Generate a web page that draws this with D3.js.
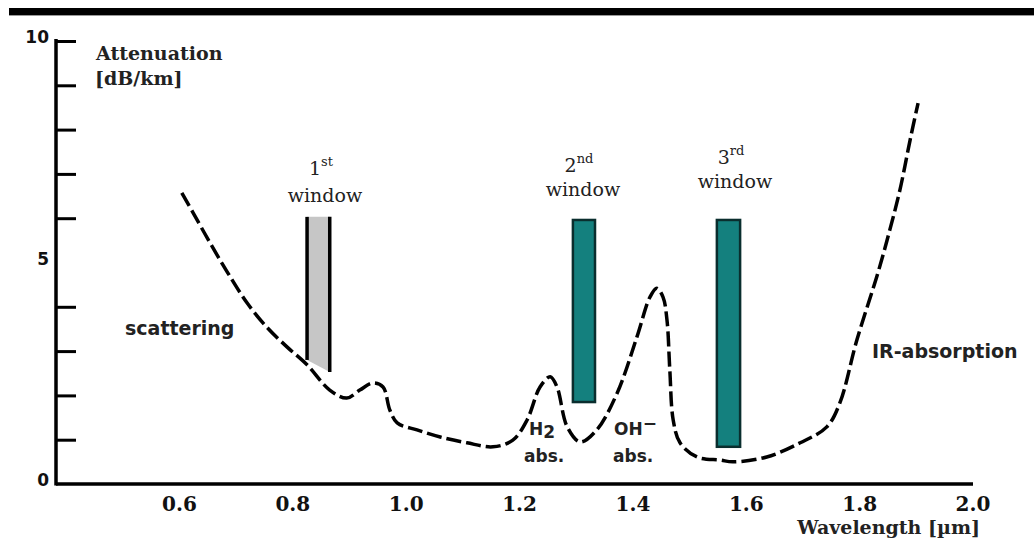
<!DOCTYPE html>
<html><head><meta charset="utf-8">
<script src="https://cdn.jsdelivr.net/npm/d3@7"></script>
<style>
html,body{margin:0;padding:0;background:#fff;}
svg{display:block;}
</style></head>
<body>
<svg id="c" width="1034" height="544"></svg>
<script>
// ---- data ----
const wavelength = [0.605,0.625,0.655,0.685,0.720,0.755,0.791,0.826,0.866,0.896,0.919,0.942,0.960,0.972,0.985,1.020,1.061,1.108,1.154,1.189,1.214,1.237,1.255,1.267,1.285,1.308,1.337,1.373,1.408,1.431,1.443,1.454,1.461,1.466,1.472,1.484,1.514,1.555,1.577,1.637,1.696,1.743,1.766,1.796,1.833,1.854,1.872,1.890,1.904];
const attenuation = [6.57,6.12,5.44,4.79,4.09,3.54,3.09,2.69,2.12,1.94,2.12,2.28,2.19,1.67,1.38,1.22,1.06,0.93,0.84,0.99,1.44,2.19,2.42,2.19,1.29,0.95,1.22,2.05,3.32,4.22,4.42,4.22,3.70,2.57,1.44,0.93,0.61,0.54,0.50,0.61,0.93,1.29,1.83,3.25,4.76,5.73,6.64,7.77,8.60];
const xTickValues = [0.6,0.8,1.0,1.2,1.4,1.6,1.8,2.0];
const xTickLabels = ["0.6","0.8","1.0","1.2","1.4","1.6","1.8","2.0"];
const yTickValues = [1,2,3,4,6,7,8,9,10];
const yLabelValues = [0,5,10];
const windowNames = ["1","2","3"];
const windowSup = ["st","nd","rd"];
const windowStart = [0.826,1.295,1.549];
const windowEnd = [0.866,1.334,1.590];
const windowTop = [6.03,5.96,5.96];
const windowBottomLeft = [2.80,1.85,0.84];
const windowBottomRight = [2.53,1.85,0.84];

// ---- scales ----
const svg = d3.select("#c");
const x = d3.scaleLinear().domain([0.4,2.0]).range([65.6,972.5]);
const y = d3.scaleLinear().domain([0,10]).range([484,41]);

// top bar
svg.append("rect").attr("x",9).attr("y",8).attr("width",1025).attr("height",7).attr("fill","#000");
svg.append("line").attr("x1",9).attr("x2",1034).attr("y1",15.5).attr("y2",15.5).attr("stroke","#999").attr("stroke-width",1);

// axes
const axisX = 56;
svg.append("line").attr("x1",axisX).attr("x2",973).attr("y1",y(0)).attr("y2",y(0))
  .attr("stroke","#000").attr("stroke-width",3.5);
svg.append("line").attr("x1",axisX).attr("x2",axisX).attr("y1",y(10)-2).attr("y2",y(0)+1.5)
  .attr("stroke","#000").attr("stroke-width",3.5);

const yTicks = svg.append("g").attr("transform",`translate(${axisX},0)`)
  .call(d3.axisRight(y).tickValues(yTickValues).tickSize(20).tickFormat(""));
yTicks.select(".domain").remove();
yTicks.selectAll("line").attr("stroke","#000").attr("stroke-width",3);

const yLab = svg.append("g").attr("transform",`translate(${axisX-4},0)`)
  .call(d3.axisLeft(y).tickValues(yLabelValues).tickSize(0).tickFormat(d3.format("d")));
yLab.select(".domain").remove();
yLab.selectAll("text").attr("font-family","DejaVu Sans").attr("font-weight","bold")
  .attr("font-size",17).attr("fill","#111").attr("dy","0.1em");

const xLab = svg.append("g").attr("transform",`translate(0,${y(0)})`)
  .call(d3.axisBottom(x).tickValues(xTickValues).tickSize(0).tickFormat((d,i)=>xTickLabels[i]));
xLab.select(".domain").remove();
xLab.selectAll("text").attr("font-family","DejaVu Serif").attr("font-weight","bold")
  .attr("font-size",20).attr("fill","#111").attr("y",13);

// axis titles
const title = svg.append("text").attr("font-family","DejaVu Serif").attr("font-weight","bold")
  .attr("font-size",19).attr("fill","#222");
title.append("tspan").attr("x",96).attr("y",60).text("Attenuation");
title.append("tspan").attr("x",95).attr("y",85).text("[dB/km]");
svg.append("text").attr("x",980).attr("y",534).attr("text-anchor","end")
  .attr("font-family","DejaVu Serif").attr("font-weight","bold").attr("font-size",19)
  .attr("fill","#222").text("Wavelength [\u00b5m]");

// windows
windowStart.forEach((s,i)=>{
  const x0 = x(s), x1 = x(windowEnd[i]);
  if(i===0){
    svg.append("path")
      .attr("d",`M${x0},${y(windowTop[i])}L${x1},${y(windowTop[i])}L${x1},${y(windowBottomRight[i])}L${x0},${y(windowBottomLeft[i])}Z`)
      .attr("fill","#c6c6c6");
    svg.append("line").attr("x1",x0).attr("x2",x0).attr("y1",y(windowTop[i])).attr("y2",y(windowBottomLeft[i]))
      .attr("stroke","#000").attr("stroke-width",3.5);
    svg.append("line").attr("x1",x1).attr("x2",x1).attr("y1",y(windowTop[i])).attr("y2",y(windowBottomRight[i]))
      .attr("stroke","#000").attr("stroke-width",3.5);
  } else {
    svg.append("rect").attr("x",x0).attr("y",y(windowTop[i]))
      .attr("width",x1-x0).attr("height",y(windowBottomLeft[i])-y(windowTop[i]))
      .attr("fill","#14807e").attr("stroke","#0a2e2e").attr("stroke-width",2.5);
  }
});

// window labels
const wlab = [
  {cx:325, numY:175, winY:202},
  {cx:583, numY:172, winY:196},
  {cx:735, numY:164, winY:188}
];
wlab.forEach((p,i)=>{
  const t = svg.append("text").attr("x",p.cx-4).attr("y",p.numY).attr("text-anchor","middle")
    .attr("font-family","DejaVu Serif").attr("font-size",19).attr("fill","#222");
  t.append("tspan").text(windowNames[i]);
  t.append("tspan").attr("dy",-9).attr("font-size",13).text(windowSup[i]);
  svg.append("text").attr("x",p.cx).attr("y",p.winY).attr("text-anchor","middle")
    .attr("font-family","DejaVu Serif").attr("font-size",19).attr("fill","#222").text("window");
});

// curve
const line = d3.line().x((d,i)=>x(wavelength[i])).y((d,i)=>y(attenuation[i]))
  .curve(d3.curveCatmullRom.alpha(0.5));
svg.append("path").datum(attenuation).attr("d",line)
  .attr("fill","none").attr("stroke","#000").attr("stroke-width",3.5)
  .attr("stroke-dasharray","15,5");

// annotations
const bold = (sel)=>sel.attr("font-family","DejaVu Sans").attr("font-weight","bold").attr("fill","#222");
bold(svg.append("text").attr("x",125).attr("y",335).attr("font-size",19)).text("scattering");
bold(svg.append("text").attr("x",872).attr("y",358).attr("font-size",19)).text("IR-absorption");
const h2 = bold(svg.append("text").attr("x",529).attr("y",435).attr("font-size",17));
h2.append("tspan").text("H");
h2.append("tspan").attr("dy",3).text("2");
bold(svg.append("text").attr("x",524).attr("y",462).attr("font-size",17)).text("abs.");
const oh = bold(svg.append("text").attr("x",614).attr("y",435).attr("font-size",17));
oh.append("tspan").text("OH");
oh.append("tspan").attr("dy",-6).text("\u2212");
bold(svg.append("text").attr("x",613).attr("y",462).attr("font-size",17)).text("abs.");
</script>
</body></html>
